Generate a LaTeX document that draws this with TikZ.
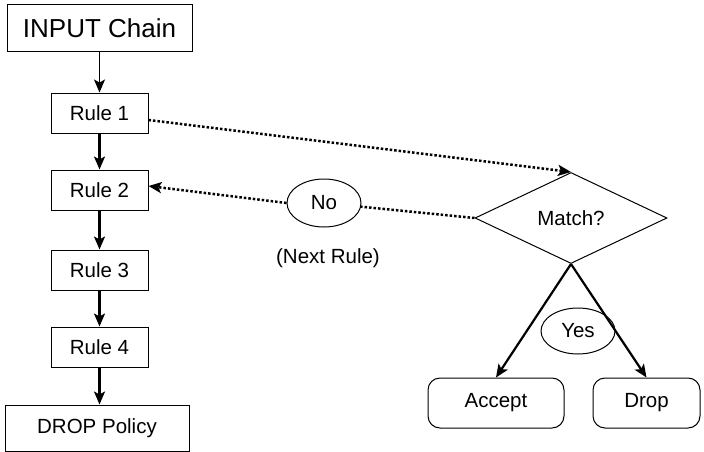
\documentclass[tikz,border=0pt]{standalone}
\usepackage{fontspec}
\setmainfont{Liberation Sans}
\usetikzlibrary{arrows.meta}
\usetikzlibrary{shapes.geometric}
\tikzset{>={Stealth[width=11pt,length=13pt,inset=3pt]}}
\tikzset{
  rulebox/.style={draw, line width=1pt, minimum width=97pt, minimum height=40pt, inner sep=0pt, font=\fontsize{20.5}{24}\selectfont},
  endbox/.style={draw, line width=1pt, rounded corners=12pt, minimum height=50pt, inner sep=0pt, font=\fontsize{20.5}{24}\selectfont},
  answer/.style={draw, ellipse, line width=1pt, minimum width=74pt, minimum height=48pt, inner sep=0pt, font=\fontsize{20.5}{24}\selectfont},
  flow/.style={-{Stealth[width=11pt,length=13pt,inset=3pt]}, line width=2.2pt},
  hop/.style={-{Stealth[width=11pt,length=13pt,inset=3pt]}, line width=2.5pt, dash pattern=on 2.5pt off 2pt}
}

\begin{document}
\begin{tikzpicture}[x=1pt,y=-1pt]

  \useasboundingbox (0,0) rectangle (704,452);

  % chain on the left
  \node[rulebox, minimum width=185pt, minimum height=47pt, font=\fontsize{26}{30}\selectfont] (inp) at (99.5,28) {INPUT Chain};
  \node[rulebox] (r1) at (99.5,113) {Rule 1};
  \node[rulebox] (r2) at (99.5,190) {Rule 2};
  \node[rulebox] (r3) at (99.5,270) {Rule 3};
  \node[rulebox] (r4) at (99.5,347) {Rule 4};
  \node[rulebox, minimum width=184pt, minimum height=46pt] (pol) at (97,428) {DROP Policy};

  % decision on the right
  \node[draw, diamond, line width=1pt, aspect=2.1, minimum width=192pt, minimum height=91pt, inner sep=0pt, font=\fontsize{20.5}{24}\selectfont] (match) at (571,218) {Match?};
  \node[answer] (no) at (324,203) {No};
  \node[font=\fontsize{20.5}{24}\selectfont] (next) at (328,258) {(Next Rule)};
  \node[answer, minimum height=46pt] (yes) at (578,331) {Yes};
  \node[endbox, minimum width=136pt] (acc) at (496,403) {Accept};
  \node[endbox, minimum width=107pt] (drop) at (646.5,403) {Drop};

  \draw[->, line width=1.2pt] (inp) -- (r1);
  \draw[flow] (r1) -- (r2);
  \draw[flow] (r2) -- (r3);
  \draw[flow] (r3) -- (r4);
  \draw[flow] (r4) -- (r4 |- pol.north);

  \draw[hop] ([yshift=-7pt]r1.east) -- (match.north);
  \draw[hop, -] (match.west) -- (no);
  \draw[hop] (no.west) -- ([yshift=4pt]r2.east);

  \draw[flow] (match.south) -- (acc.north);
  \draw[flow] (match.south) -- (drop.north);

\end{tikzpicture}
\end{document}
